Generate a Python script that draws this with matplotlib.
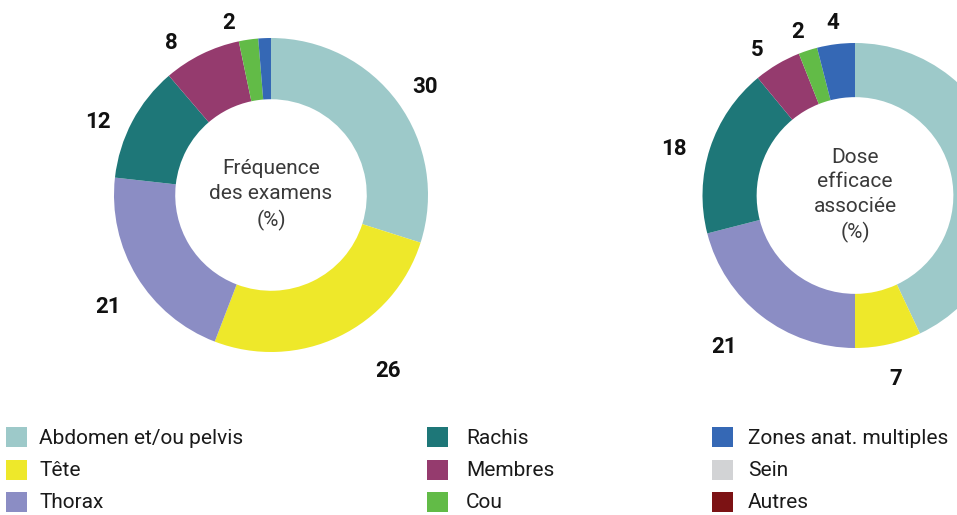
import numpy as np
import matplotlib
matplotlib.use("Agg")
import matplotlib.pyplot as plt
from matplotlib.patches import Rectangle

plt.rcParams['font.family'] = ['Roboto', 'DejaVu Sans']

# categories (legend order)
categories = ["Abdomen et/ou pelvis", "Tête", "Thorax",
              "Rachis", "Membres", "Cou",
              "Zones anat. multiples", "Sein", "Autres"]
colors = ["#9dc9c9", "#eee82a", "#8b8dc4",
          "#1e7778", "#953b6e", "#62bb47",
          "#3568b5", "#d2d3d5", "#7c1214"]

# pie order (clockwise from top)
pie_cats = ["Abdomen et/ou pelvis", "Tête", "Thorax", "Rachis", "Membres", "Cou", "Zones anat. multiples"]

freq_values = [30, 26, 21, 12, 8, 2, 1.3]
freq_labels = ["30", "26", "21", "12", "8", "2", ""]

dose_values = [43, 7, 21, 18, 5, 2, 4]
dose_labels = ["", "7", "21", "18", "5", "2", "4"]

W, H = 957, 515
fig = plt.figure(figsize=(W / 100, H / 100), dpi=100)


def donut(cx, cy, R, values, labels, width, title, lab_r, lab_shift):
    ax = fig.add_axes([(cx - R) / W, (H - cy - R) / H, 2 * R / W, 2 * R / H])
    cols = [colors[categories.index(c)] for c in pie_cats]
    wedges, _ = ax.pie(values, colors=cols, startangle=90, counterclock=False,
                       radius=1, wedgeprops=dict(width=width, linewidth=0))
    ax.set_xlim(-1, 1)
    ax.set_ylim(-1, 1)
    ax.set_aspect('equal')
    ax.axis('off')
    for w, lab, r, sh in zip(wedges, labels, lab_r, lab_shift):
        if not lab:
            continue
        ang = np.deg2rad((w.theta1 + w.theta2) / 2 + sh)
        ax.text(r * np.cos(ang), r * np.sin(ang), lab, ha='center', va='center',
                fontsize=16, fontweight='bold', color='#111111', clip_on=False)
    ax.text(0, 0, title, ha='center', va='center', fontsize=15,
            color='#3a3a3a', linespacing=1.38)
    return ax


donut(271, 195, 157, freq_values, freq_labels, 0.39, "Fréquence\ndes examens\n(%)",
      [1.2, 1.35, 1.26, 1.2, 1.16, 1.13, 1.1],
      [-1, 8, 3, 5, 7, 5.5, 0])
donut(855, 195.5, 152.5, dose_values, dose_labels, 0.355, "Dose\nefficace\nassociée\n(%)",
      [1.2, 1.23, 1.31, 1.23, 1.15, 1.14, 1.14],
      [0, 0, -3, 3.5, 3.4, 1.4, 0])

# legend
lax = fig.add_axes([0, 0, 1, 1])
lax.set_xlim(0, W)
lax.set_ylim(H, 0)
lax.axis('off')
col_x = [6, 427, 712]
text_x = [39, 466, 748]
row_y = [437, 469.5, 502]
for i, (cat, c) in enumerate(zip(categories, colors)):
    col, row = divmod(i, 3)
    lax.add_patch(Rectangle((col_x[col], row_y[row] - 10), 21, 20, color=c, lw=0))
    lax.text(text_x[col], row_y[row] + 1, cat, ha='left', va='center',
             fontsize=15, color='#1a1a1a')

fig.savefig("out.png", dpi=100)
